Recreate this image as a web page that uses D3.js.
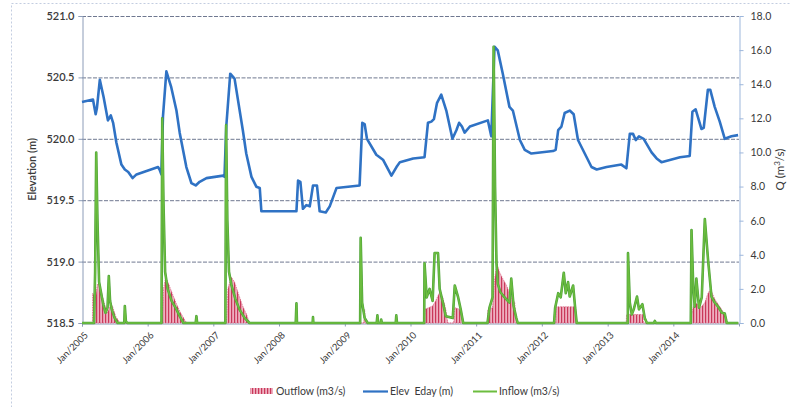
<!DOCTYPE html>
<html>
<head>
<meta charset="utf-8">
<script src="https://cdn.jsdelivr.net/npm/d3@7"></script>
<style>
  html, body { margin: 0; padding: 0; background: #fff; }
  svg { display: block; }
  text { font-family: Lato, "Open Sans", sans-serif; fill: #3a3a3a; }
</style>
</head>
<body>
<svg id="chart" width="791" height="407"></svg>
<script>
// Reservoir water level (left axis) and flows (right axis), 2005-2014

const elevation = [
  ["2005-01-01",520.30],["2005-03-03",520.32],["2005-03-18",520.20],["2005-03-25",520.25],
  ["2005-04-10",520.48],["2005-05-01",520.34],["2005-05-25",520.15],["2005-06-10",520.19],
  ["2005-06-23",520.13],["2005-07-11",519.97],["2005-08-08",519.79],["2005-08-27",519.75],
  ["2005-09-15",519.73],["2005-10-09",519.68],["2005-10-31",519.71],["2006-02-28",519.77],
  ["2006-03-08",519.75],["2006-03-18",519.71],["2006-03-27",520.18],["2006-04-15",520.55],
  ["2006-05-12",520.42],["2006-06-10",520.23],["2006-06-28",520.05],["2006-08-04",519.77],
  ["2006-09-01",519.64],["2006-09-25",519.62],["2006-10-17",519.65],["2006-11-24",519.68],
  ["2007-02-25",519.70],["2007-03-04",519.69],["2007-03-14",520.10],["2007-04-05",520.53],
  ["2007-04-29",520.49],["2007-06-14",520.07],["2007-07-03",519.88],["2007-08-01",519.69],
  ["2007-08-28",519.61],["2007-09-16",519.60],["2007-09-25",519.41],["2008-04-07",519.41],
  ["2008-04-16",519.66],["2008-04-29",519.65],["2008-05-13",519.43],["2008-06-01",519.46],
  ["2008-06-20",519.45],["2008-07-08",519.62],["2008-07-30",519.62],["2008-08-14",519.41],
  ["2008-09-17",519.40],["2008-10-09",519.45],["2008-11-16",519.60],["2009-03-24",519.62],
  ["2009-04-08",520.13],["2009-04-21",520.12],["2009-05-04",520.00],["2009-06-25",519.87],
  ["2009-08-01",519.83],["2009-09-17",519.70],["2009-10-15",519.77],["2009-11-03",519.81],
  ["2010-01-16",519.84],["2010-03-20",519.85],["2010-04-08",520.13],["2010-04-27",520.14],
  ["2010-05-11",520.16],["2010-05-28",520.29],["2010-06-21",520.36],["2010-07-19",520.23],
  ["2010-08-22",520.00],["2010-09-13",520.07],["2010-09-28",520.13],["2010-10-14",520.10],
  ["2010-10-29",520.05],["2010-11-27",520.10],["2011-03-07",520.15],["2011-03-26",520.02],
  ["2011-04-13",520.75],["2011-05-01",520.72],["2011-05-29",520.53],["2011-07-05",520.26],
  ["2011-07-24",520.23],["2011-09-01",519.99],["2011-09-28",519.91],["2011-11-04",519.88],
  ["2012-03-03",519.90],["2012-03-18",519.91],["2012-04-01",520.07],["2012-04-19",520.10],
  ["2012-05-07",520.21],["2012-06-04",520.23],["2012-06-26",520.20],["2012-07-20",519.99],
  ["2012-09-06",519.85],["2012-10-03",519.77],["2012-11-01",519.75],["2012-12-26",519.77],
  ["2013-03-18",519.79],["2013-04-15",519.76],["2013-05-04",520.04],["2013-05-22",520.04],
  ["2013-06-06",519.99],["2013-06-24",520.02],["2013-07-20",520.00],["2013-09-02",519.89],
  ["2013-09-30",519.84],["2013-10-27",519.81],["2014-02-07",519.85],["2014-04-02",519.86],
  ["2014-04-17",520.22],["2014-05-05",520.24],["2014-06-06",520.08],["2014-06-19",520.09],
  ["2014-07-12",520.40],["2014-07-25",520.40],["2014-08-19",520.26],["2014-09-16",520.14],
  ["2014-10-14",520.00],["2014-11-20",520.02],["2014-12-27",520.03]
];

const inflow = [
  ["2005-01-01",0],["2005-03-09",0],["2005-03-15",3.0],["2005-03-21",10.0],["2005-03-28",6.0],
  ["2005-04-06",2.4],["2005-04-20",1.6],["2005-05-01",1.0],["2005-05-12",0.6],["2005-05-23",0.9],
  ["2005-05-30",2.75],["2005-06-06",1.3],["2005-06-15",0.8],["2005-07-01",0.3],["2005-07-18",0],
  ["2005-08-24",0],["2005-08-27",1.0],["2005-09-02",0.1],["2005-09-10",0],
  ["2006-03-19",0],["2006-03-23",12.0],["2006-03-30",7.0],["2006-04-08",3.0],["2006-04-22",2.0],
  ["2006-05-14",1.3],["2006-06-05",0.9],["2006-06-28",0.4],["2006-07-19",0],
  ["2006-09-25",0],["2006-09-29",0.4],["2006-10-03",0],
  ["2007-03-09",0],["2007-03-13",11.6],["2007-03-20",6.0],["2007-03-29",3.0],["2007-04-12",2.2],
  ["2007-05-04",1.4],["2007-05-26",0.8],["2007-06-24",0.3],["2007-07-21",0],
  ["2008-04-03",0],["2008-04-07",1.15],["2008-04-10",0],["2008-07-06",0],["2008-07-08",0.35],["2008-07-10",0],
  ["2009-03-27",0],["2009-03-30",5.0],["2009-04-07",1.2],["2009-04-21",0.3],["2009-05-08",0],
  ["2009-06-27",0],["2009-07-01",0.45],["2009-07-05",0],["2009-07-20",0],["2009-07-22",0.2],["2009-07-26",0],
  ["2009-10-11",0],["2009-10-14",0.45],["2009-10-18",0],
  ["2010-03-18",0],["2010-03-20",3.5],["2010-04-01",1.5],["2010-04-17",2.0],["2010-05-04",1.3],
  ["2010-05-15",4.1],["2010-06-03",4.1],["2010-06-12",2.0],["2010-07-01",1.15],["2010-07-16",0.4],
  ["2010-08-24",0.3],["2010-09-04",2.2],["2010-09-23",1.5],["2010-10-07",0.8],["2010-10-21",0],
  ["2011-03-05",0],["2011-03-16",0.9],["2011-04-02",1.5],["2011-04-08",16.2],["2011-04-16",8.0],
  ["2011-04-24",3.5],["2011-05-01",2.3],["2011-05-16",1.8],["2011-06-08",1.5],["2011-07-05",1.2],
  ["2011-07-15",2.6],["2011-07-28",1.0],["2011-08-12",0.3],["2011-08-20",0],
  ["2012-03-09",0],["2012-03-15",0.9],["2012-04-01",1.75],["2012-04-15",1.5],["2012-05-02",2.95],
  ["2012-05-13",1.75],["2012-05-26",2.4],["2012-06-04",1.55],["2012-06-23",2.2],["2012-07-05",0.8],
  ["2012-07-13",0],
  ["2013-04-23",0],["2013-04-24",4.1],["2013-05-04",1.2],["2013-05-15",0.5],["2013-05-26",0.8],
  ["2013-06-13",1.55],["2013-06-24",0.8],["2013-07-13",1.1],["2013-07-26",0.3],["2013-08-07",0],
  ["2013-09-15",0],["2013-09-20",0.12],["2013-09-26",0],
  ["2014-04-08",0],["2014-04-12",5.45],["2014-04-22",2.0],["2014-04-30",0.95],["2014-05-09",2.6],
  ["2014-05-24",0.9],["2014-06-08",1.5],["2014-06-25",6.1],["2014-07-13",3.7],["2014-08-01",1.55],
  ["2014-08-19",1.2],["2014-09-07",0.95],["2014-09-28",0.6],["2014-10-14",0.55],["2014-10-25",0],
  ["2014-12-28",0]
];

const outflow = [
  ["2005-01-01",0],["2005-02-28",0],["2005-03-01",1.75],["2005-03-18",1.5],["2005-03-28",2.3],
  ["2005-04-10",2.2],["2005-04-26",1.5],["2005-05-12",0.9],["2005-05-23",0.6],["2005-06-10",1.1],
  ["2005-06-19",1.0],["2005-07-07",0.4],["2005-07-31",0],
  ["2006-03-22",0],["2006-03-30",2.0],["2006-04-11",2.7],["2006-04-27",2.3],["2006-05-19",1.7],
  ["2006-06-11",1.1],["2006-07-03",0.6],["2006-07-25",0.2],["2006-08-06",0],
  ["2007-03-15",0],["2007-03-23",2.0],["2007-04-10",2.7],["2007-04-29",2.4],["2007-05-21",1.7],
  ["2007-06-13",1.0],["2007-07-05",0.5],["2007-07-21",0],
  ["2009-04-16",0],["2009-04-21",0.8],["2009-04-25",0],
  ["2010-03-18",0],["2010-03-22",0.8],["2010-05-04",1.0],["2010-05-21",1.3],["2010-06-12",1.8],
  ["2010-06-29",1.5],["2010-07-16",0.8],["2010-07-27",0],["2010-08-29",0],["2010-09-04",0.9],
  ["2010-10-02",0.8],["2010-10-20",0],
  ["2011-03-05",0],["2011-03-07",0.8],["2011-04-02",0.9],["2011-04-13",2.5],["2011-04-26",3.5],
  ["2011-05-10",3.0],["2011-05-29",2.6],["2011-06-19",2.2],["2011-07-05",1.75],["2011-07-22",1.4],
  ["2011-08-03",1.2],["2011-08-14",0],
  ["2012-03-18",0],["2012-03-20",0.95],["2012-07-07",0.95],["2012-07-13",0],
  ["2013-04-14",0],["2013-04-16",0.5],["2013-07-15",0.5],["2013-07-19",0],
  ["2014-04-10",0],["2014-04-12",0.5],["2014-04-30",1.25],["2014-06-02",0.9],["2014-06-25",1.2],
  ["2014-07-11",1.7],["2014-07-27",2.0],["2014-08-19",1.4],["2014-09-26",0.8],["2014-10-23",0.3],
  ["2014-10-27",0],["2014-12-28",0]
];

const elevTicks = [518.5, 519.0, 519.5, 520.0, 520.5, 521.0];
const flowTicks = [0, 2, 4, 6, 8, 10, 12, 14, 16, 18];
const yearTicks = ["2005","2006","2007","2008","2009","2010","2011","2012","2013","2014"];
const legendItems = ["Outflow (m3/s)", "Elev  Eday (m)", "Inflow (m3/s)"];

const parse = d3.timeParse("%Y-%m-%d");
const svg = d3.select("#chart");

const plot = { left: 82, right: 739, top: 16, bottom: 323 };

const x = d3.scaleTime()
  .domain([parse("2005-01-01"), parse("2015-01-01")])
  .range([plot.left, plot.right]);
const yElev = d3.scaleLinear().domain([518.5, 521.0]).range([plot.bottom, plot.top]);
const yFlow = d3.scaleLinear().domain([0, 18]).range([plot.bottom, plot.top]);

const colors = {
  elev: "#2f72c4",
  inflow: "#6cbd3f",
  outRed: "#c9385a",
  outPink: "#eeafc0",
  grid: "#6f7890",
  axis: "#8c9cb8"
};

// outer frame
svg.append("rect")
  .attr("x", 11.5).attr("y", 3.5).attr("width", 820).attr("height", 440)
  .attr("fill", "none").attr("stroke", "#c3cde0").attr("stroke-dasharray", "2,2");

// hatch used by the outflow columns
const defs = svg.append("defs");
const pat = defs.append("pattern")
  .attr("id", "outHatch").attr("patternUnits", "userSpaceOnUse")
  .attr("width", 3).attr("height", 4);
pat.append("rect").attr("width", 3).attr("height", 4).attr("fill", colors.outPink);
pat.append("rect").attr("x", 0).attr("width", 1.2).attr("height", 4).attr("fill", colors.outRed);

// horizontal gridlines on the elevation ticks
svg.append("g").selectAll("line")
  .data(elevTicks.filter(v => v > 518.5))
  .join("line")
  .attr("x1", plot.left).attr("x2", plot.right)
  .attr("y1", d => yElev(d) + 0.5).attr("y2", d => yElev(d) + 0.5)
  .attr("stroke", colors.grid).attr("stroke-width", 1)
  .attr("stroke-dasharray", "4,1.5");

// left axis
const leftAxis = svg.append("g")
  .attr("transform", `translate(${plot.left + 0.5},0)`)
  .call(d3.axisLeft(yElev).tickValues(elevTicks).tickFormat(d3.format(".1f")).tickSize(4).tickPadding(4));
leftAxis.select(".domain").attr("stroke", colors.axis);
leftAxis.selectAll(".tick line").attr("stroke", colors.axis);
leftAxis.selectAll("text").style("font-size", "11px").style("font-weight", "600").attr("fill", "#3a3a3a");

// right axis
const rightAxis = svg.append("g")
  .attr("transform", `translate(${plot.right + 0.5},0)`)
  .call(d3.axisRight(yFlow).tickValues(flowTicks).tickFormat(d3.format(".1f")).tickSize(4).tickPadding(7));
rightAxis.select(".domain").attr("stroke", "#9db7dc");
rightAxis.selectAll(".tick line").attr("stroke", "#9db7dc");
rightAxis.selectAll("text").style("font-size", "10.5px").attr("fill", "#3a3a3a");

// bottom axis
const xAxis = svg.append("g")
  .attr("transform", `translate(0,${plot.bottom + 0.5})`)
  .call(d3.axisBottom(x)
    .tickValues(yearTicks.map(y => parse(y + "-01-01")))
    .tickFormat(d3.timeFormat("%b/%Y")).tickSize(3));
xAxis.select(".domain").attr("stroke", colors.axis);
xAxis.selectAll(".tick line").attr("stroke", colors.axis);
xAxis.selectAll("text")
  .style("font-size", "9.5px")
  .attr("text-anchor", "end")
  .attr("dx", "0").attr("dy", "0")
  .attr("transform", "translate(2,8) rotate(-45)");

// axis titles
svg.append("text")
  .attr("transform", `translate(36,${(plot.top + plot.bottom) / 2}) rotate(-90)`)
  .attr("text-anchor", "middle")
  .style("font-size", "11px").style("font-weight", "600")
  .text("Elevation (m)");
const qTitle = svg.append("text")
  .attr("transform", `translate(784,${(plot.top + plot.bottom) / 2}) rotate(-90)`)
  .attr("text-anchor", "middle")
  .style("font-size", "11.5px");
qTitle.append("tspan").text("Q (m");
qTitle.append("tspan").attr("dy", "-4").style("font-size", "8px").text("3");
qTitle.append("tspan").attr("dy", "4").text("/s)");

// outflow columns
const outArea = d3.area()
  .x(d => x(parse(d[0])))
  .y0(yFlow(0))
  .y1(d => yFlow(d[1]));
svg.append("path")
  .datum(outflow)
  .attr("d", outArea)
  .attr("fill", "url(#outHatch)")
  .attr("stroke", "#d9607e").attr("stroke-width", 0.7).attr("stroke-dasharray", "1.5,1");

// elevation line
const elevLine = d3.line()
  .x(d => x(parse(d[0])))
  .y(d => yElev(d[1]));
svg.append("path")
  .datum(elevation)
  .attr("d", elevLine)
  .attr("fill", "none")
  .attr("stroke", colors.elev).attr("stroke-width", 2.6)
  .attr("stroke-linejoin", "round");

// inflow line
const flowLine = d3.line()
  .x(d => x(parse(d[0])))
  .y(d => yFlow(d[1]));
svg.append("path")
  .datum(inflow)
  .attr("d", flowLine)
  .attr("fill", "none")
  .attr("stroke", "#4ea33a").attr("stroke-width", 2.6)
  .attr("stroke-linejoin", "round");
svg.append("path")
  .datum(inflow)
  .attr("d", flowLine)
  .attr("fill", "none")
  .attr("stroke", colors.inflow).attr("stroke-width", 1.4)
  .attr("stroke-linejoin", "round");

// legend
const legend = svg.append("g").attr("transform", "translate(0,391)");
legend.append("rect")
  .attr("x", 250).attr("y", -3).attr("width", 23).attr("height", 6)
  .attr("fill", "url(#outHatch)");
legend.append("text").attr("x", 276).attr("y", 4)
  .style("font-size", "10.5px").text(legendItems[0]);
legend.append("line")
  .attr("x1", 363).attr("x2", 388).attr("y1", 0.5).attr("y2", 0.5)
  .attr("stroke", colors.elev).attr("stroke-width", 2.2);
legend.append("text").attr("x", 390).attr("y", 4)
  .style("font-size", "10.5px").style("white-space", "pre").attr("xml:space", "preserve")
  .text(legendItems[1]);
legend.append("line")
  .attr("x1", 473).attr("x2", 497).attr("y1", 0.5).attr("y2", 0.5)
  .attr("stroke", colors.inflow).attr("stroke-width", 2);
legend.append("text").attr("x", 499).attr("y", 4)
  .style("font-size", "10.5px").text(legendItems[2]);
</script>
</body>
</html>
